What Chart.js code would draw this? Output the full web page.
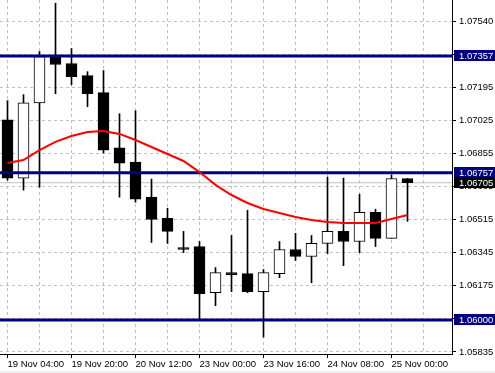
<!DOCTYPE html>
<html>
<head>
<meta charset="utf-8">
<script src="https://cdn.jsdelivr.net/npm/chart.js@4"></script>
<style>
    html, body { margin: 0; padding: 0; background: #ffffff; }
    #chart { display: block; }
</style>
</head>
<body>
<canvas id="chart" width="495" height="373"></canvas>
<script>
// EURUSD H4 candles
const times = [
    '19 Nov 04:00', '19 Nov 08:00', '19 Nov 12:00', '19 Nov 16:00',
    '19 Nov 20:00', '20 Nov 00:00', '20 Nov 04:00', '20 Nov 08:00',
    '20 Nov 12:00', '20 Nov 16:00', '20 Nov 20:00', '22 Nov 20:00',
    '23 Nov 00:00', '23 Nov 04:00', '23 Nov 08:00', '23 Nov 12:00',
    '23 Nov 16:00', '23 Nov 20:00', '24 Nov 00:00', '24 Nov 04:00',
    '24 Nov 08:00', '24 Nov 12:00', '24 Nov 16:00', '24 Nov 20:00',
    '25 Nov 00:00', '25 Nov 04:00'
];
const opens = [1.07028, 1.06729, 1.07116, 1.07354, 1.07318, 1.07256, 1.07168, 1.06884, 1.06811, 1.06631, 1.06522, 1.06372, 1.06377, 1.06140, 1.06243, 1.06238, 1.06145, 1.06238, 1.06362, 1.06326, 1.06393, 1.06455, 1.06403, 1.06553, 1.06419, 1.06727];
const highs = [1.07127, 1.07158, 1.07380, 1.07628, 1.07395, 1.07276, 1.07282, 1.07060, 1.07075, 1.06724, 1.06574, 1.06455, 1.06403, 1.06269, 1.06434, 1.06564, 1.06259, 1.06403, 1.06445, 1.06434, 1.06734, 1.06729, 1.06646, 1.06569, 1.06745, 1.06727];
const lows = [1.06718, 1.06667, 1.06682, 1.07163, 1.07209, 1.07096, 1.06858, 1.06631, 1.06605, 1.06398, 1.06393, 1.06346, 1.06005, 1.06073, 1.06145, 1.06140, 1.05912, 1.06217, 1.06305, 1.06191, 1.06341, 1.06279, 1.06346, 1.06377, 1.06419, 1.06507];
const closes = [1.06729, 1.07116, 1.07354, 1.07313, 1.07251, 1.07163, 1.06873, 1.06806, 1.06620, 1.06517, 1.06455, 1.06362, 1.06135, 1.06243, 1.06233, 1.06145, 1.06243, 1.06362, 1.06326, 1.06393, 1.06455, 1.06403, 1.06553, 1.06419, 1.06727, 1.06705];

// moving average (red)
const maValues = [1.06807, 1.06822, 1.06873, 1.06915, 1.06945, 1.06966, 1.06971, 1.06956, 1.06925, 1.06889, 1.06853, 1.06817, 1.06760, 1.06694, 1.06642, 1.06601, 1.06570, 1.06550, 1.06529, 1.06514, 1.06503, 1.06498, 1.06498, 1.06498, 1.06519, 1.06539];

// horizontal levels and current price
const levels = [1.07357, 1.06757, 1.06000];
const bidPrice = 1.06705;

// price axis grid
const yTickValues = [1.05835, 1.06005, 1.06175, 1.06345, 1.06515, 1.06685, 1.06855, 1.07025, 1.07195, 1.07365, 1.07535];
const yTickLabels = ['1.05835', '', '1.06175', '1.06345', '1.06515', '1.06685', '1.06855', '1.07025', '1.07195', '', '1.07540'];

const X_MIN = -0.46875;
const X_MAX = 27.78125;
const Y_MIN = 1.058247;
const Y_MAX = 1.076445;

const FONT = { family: 'Liberation Sans', size: 9.5 };

// Background + bottom strip
const backgroundPlugin = {
    id: 'background',
    beforeDraw(chart) {
        const ctx = chart.ctx;
        ctx.save();
        ctx.fillStyle = '#ffffff';
        ctx.fillRect(0, 0, chart.width, chart.height);
        ctx.fillStyle = '#f0f0f0';
        ctx.fillRect(0, 371, chart.width, 2);
        ctx.restore();
    }
};

// Price labels on the right axis
const priceLabelPlugin = {
    id: 'priceLabels',
    afterDraw(chart) {
        const ctx = chart.ctx;
        const yScale = chart.scales.y;
        const items = levels.map(v => ({ value: v, color: '#000080' }));
        items.push({ value: bidPrice, color: '#000000' });
        ctx.save();
        ctx.font = FONT.size + 'px ' + FONT.family;
        ctx.textBaseline = 'middle';
        ctx.textAlign = 'left';
        items.forEach(item => {
            const y = Math.round(yScale.getPixelForValue(item.value));
            ctx.fillStyle = item.color;
            ctx.fillRect(454, y - 6, chart.width - 454, 11);
            ctx.fillStyle = '#ffffff';
            ctx.fillText(item.value.toFixed(5), 459, y);
        });
        ctx.restore();
    }
};

function createChart() {
    const ctx = document.getElementById('chart').getContext('2d');

    const bodyData = times.map((t, i) => ({ x: i, y: [opens[i], closes[i]] }));
    const wickData = times.map((t, i) => ({ x: i, y: [lows[i], highs[i]] }));
    const maData = times.map((t, i) => ({ x: i, y: maValues[i] }));

    const levelSets = levels.map(v => ({
        type: 'line',
        data: [{ x: X_MIN, y: v }, { x: X_MAX, y: v }],
        borderColor: '#000080',
        borderWidth: 3,
        pointRadius: 0
    }));

    new Chart(ctx, {
        type: 'bar',
        data: {
            datasets: [
                {
                    type: 'line',
                    data: maData,
                    borderColor: '#ff0000',
                    borderWidth: 2,
                    pointRadius: 0,
                    tension: 0
                },
                ...levelSets,
                {
                    type: 'bar',
                    data: bodyData,
                    backgroundColor: opens.map((o, i) => closes[i] >= o ? '#ffffff' : '#000000'),
                    borderColor: '#000000',
                    borderWidth: 1,
                    borderSkipped: false,
                    barThickness: 11,
                    grouped: false
                },
                {
                    type: 'bar',
                    data: wickData,
                    backgroundColor: '#000000',
                    borderWidth: 0,
                    barThickness: 1,
                    grouped: false
                },
                {
                    type: 'line',
                    data: [{ x: X_MIN, y: bidPrice }, { x: X_MAX, y: bidPrice }],
                    borderColor: '#c0c0c0',
                    borderWidth: 1,
                    pointRadius: 0
                }
            ]
        },
        options: {
            responsive: false,
            animation: false,
            layout: { padding: 0 },
            plugins: {
                legend: { display: false },
                tooltip: { enabled: false }
            },
            scales: {
                x: {
                    type: 'linear',
                    min: X_MIN,
                    max: X_MAX,
                    offset: false,
                    afterBuildTicks: scale => {
                        const ticks = [];
                        for (let i = 0; i <= 26; i += 2) ticks.push({ value: i });
                        scale.ticks = ticks;
                    },
                    afterFit: scale => {
                        scale.height = 19;
                        scale.paddingLeft = 0;
                        scale.paddingRight = 0;
                    },
                    grid: {
                        offset: false,
                        color: '#c0c0c0',
                        drawTicks: true,
                        tickLength: 4,
                        tickBorderDash: [],
                        tickColor: c => (c.tick && c.tick.value % 4 === 0) ? '#000000' : 'rgba(0,0,0,0)'
                    },
                    border: { display: true, color: '#000000', width: 1, dash: [3, 3] },
                    ticks: {
                        autoSkip: false,
                        maxRotation: 0,
                        align: 'start',
                        padding: 1,
                        color: '#000000',
                        font: FONT,
                        callback: value => value % 4 === 0 ? times[value] : ''
                    }
                },
                y: {
                    type: 'linear',
                    position: 'right',
                    min: Y_MIN,
                    max: Y_MAX,
                    afterBuildTicks: scale => {
                        scale.ticks = yTickValues.map(v => ({ value: v }));
                    },
                    afterFit: scale => {
                        scale.width = 43;
                        scale.paddingTop = 0;
                        scale.paddingBottom = 0;
                    },
                    grid: {
                        color: '#c0c0c0',
                        drawTicks: true,
                        tickLength: 4,
                        tickBorderDash: [],
                        tickColor: '#000000'
                    },
                    border: { display: true, color: '#000000', width: 1, dash: [3, 3] },
                    ticks: {
                        padding: 3,
                        color: '#000000',
                        font: FONT,
                        callback: (value, index) => yTickLabels[index]
                    }
                }
            }
        },
        plugins: [backgroundPlugin, priceLabelPlugin]
    });
}

document.addEventListener('DOMContentLoaded', createChart);
</script>
</body>
</html>
